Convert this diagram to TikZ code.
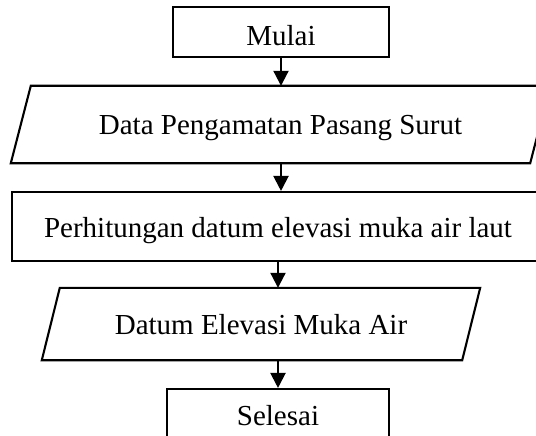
\documentclass[tikz,border=0pt]{standalone}
\usepackage{fontspec}
\setmainfont{Liberation Serif}
\usetikzlibrary{arrows.meta}
\begin{document}
\begin{tikzpicture}[x=1pt,y=-1pt,
  lw/.style={line width=2.1pt},
  shapebox/.style={inner sep=0pt, font=\fontsize{29}{34}\selectfont, text height=21pt, text depth=0pt, align=center},
  procbox/.style={shapebox, draw, lw},
  iobox/.style={shapebox, draw=none},
  arr/.style={lw, -{Triangle[length=15pt,width=15pt]}}
]
\clip (0,0) rectangle (536,436);
\fill[white] (0,0) rectangle (536,436);

\node[procbox, minimum width=216pt, minimum height=50pt, text height=28pt] (mulai) at (281,32) {Mulai};
\node[iobox, minimum width=519pt, minimum height=77pt] (data) at (280.5,124.5) {Data Pengamatan Pasang Surut};
\draw[lw] ([xshift=10pt]data.north west) -- ([xshift=10pt]data.north east) -- ([xshift=-10pt]data.south east) -- ([xshift=-10pt]data.south west) -- cycle;
\node[procbox, minimum width=532pt, minimum height=69pt] (perh) at (278,226.5) {Perhitungan datum elevasi muka air laut};
\node[iobox, minimum width=420pt, minimum height=72pt] (datum) at (261,324) {Datum Elevasi Muka Air};
\draw[lw] ([xshift=9pt]datum.north west) -- ([xshift=9pt]datum.north east) -- ([xshift=-9pt]datum.south east) -- ([xshift=-9pt]datum.south west) -- cycle;
\node[procbox, minimum width=222pt, minimum height=51pt] (selesai) at (278,414.5) {Selesai};

\draw[arr] (mulai.south) -- (mulai.south |- data.north);
\draw[arr] (data.south -| mulai.south) -- (mulai.south |- perh.north);
\draw[arr] (perh.south) -- (perh.south |- datum.north);
\draw[arr] (selesai.north |- datum.south) -- (selesai.north);
\end{tikzpicture}
\end{document}
